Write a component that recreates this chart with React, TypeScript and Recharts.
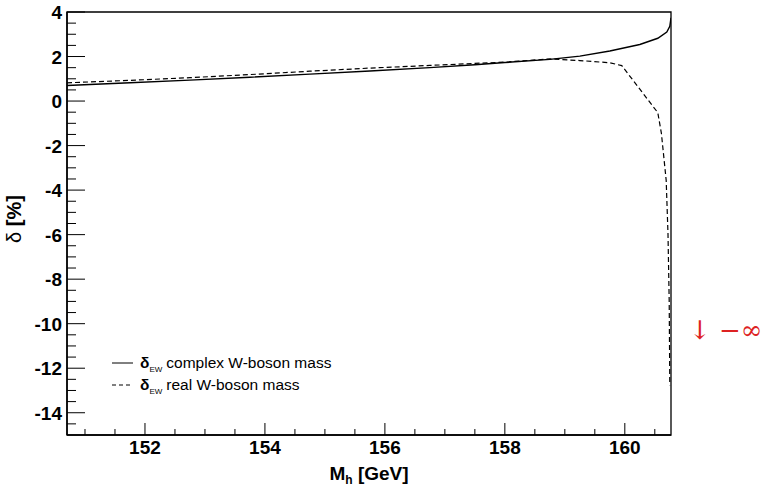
import React from "react";
import { Legend, Line, LineChart, ReferenceArea, XAxis, YAxis } from "recharts";

// δ_EW with the complex W-boson mass (solid)
const complexMh = [150.7, 151.75, 152.75, 153.75, 154.75, 155.75, 156.75, 157.5, 158.0, 158.75, 159.25, 159.75, 160.25, 160.55, 160.7, 160.75, 160.77];
const complexDelta = [0.7, 0.82, 0.94, 1.07, 1.21, 1.35, 1.5, 1.63, 1.73, 1.87, 2.02, 2.25, 2.54, 2.82, 3.1, 3.36, 3.74];

// δ_EW with the real W-boson mass (dashed), runs to -infinity at threshold
const realMh = [150.7, 151.75, 152.75, 153.75, 154.75, 155.75, 156.75, 157.5, 158.0, 158.75, 159.25, 159.75, 159.95, 160.55, 160.61, 160.69, 160.72, 160.74, 160.75];
const realDelta = [0.82, 0.93, 1.05, 1.19, 1.34, 1.48, 1.6, 1.69, 1.75, 1.89, 1.82, 1.72, 1.59, -0.52, -1.45, -3.57, -5.97, -9.0, -12.76];

const xMajor = [152, 154, 156, 158, 160];
const yMajor = [-14, -12, -10, -8, -6, -4, -2, 0, 2, 4];

const xTicks: number[] = [];
for (let v = 151; v <= 160.5; v += 0.5) xTicks.push(v);
const yTicks: number[] = [];
for (let v = -14.5; v <= 4; v += 0.5) yTicks.push(v);

const complexData = complexMh.map((m, i) => ({ m, d: complexDelta[i] }));
const realData = realMh.map((m, i) => ({ m, d: realDelta[i] }));

const FONT = "'Liberation Sans', Arial, Helvetica, sans-serif";
const isMajor = (list: number[], v: number) => list.some((t) => Math.abs(t - v) < 1e-6);

function XTick({ x, y, payload }: any) {
  const major = isMajor(xMajor, payload.value);
  return (
    <g>
      <line x1={x} x2={x} y1={y} y2={y - (major ? 12 : 6)} stroke="#000" />
      {major && (
        <text x={x} y={y + 19} textAnchor="middle" fontSize={19} fontWeight="bold" fontFamily={FONT} fill="#000">
          {payload.value}
        </text>
      )}
    </g>
  );
}

function YTick({ x, y, payload }: any) {
  const major = isMajor(yMajor, payload.value);
  return (
    <g>
      <line x1={x} x2={x + (major ? 18 : 9)} y1={y} y2={y} stroke="#000" />
      {major && (
        <text x={x - 5} y={y + 7} textAnchor="end" fontSize={19} fontWeight="bold" fontFamily={FONT} fill="#000">
          {payload.value}
        </text>
      )}
    </g>
  );
}

function XTitle({ viewBox }: any) {
  const cx = viewBox.x + viewBox.width / 2;
  return (
    <text x={cx} y={viewBox.y + 45} textAnchor="middle" fontSize={19} fontWeight="bold" fontFamily={FONT} fill="#000">
      M<tspan fontSize={12} dy={4}>h</tspan>
      <tspan dy={-4}> [GeV]</tspan>
    </text>
  );
}

function YTitle() {
  return (
    <text transform="translate(21,219) rotate(-90)" textAnchor="middle" fontSize={20} fontFamily={FONT} fill="#000">
      δ<tspan fontWeight="bold"> [%]</tspan>
    </text>
  );
}

function LegendBox() {
  const rows = [
    { y: 13, dash: undefined, text: "complex W-boson mass" },
    { y: 35, dash: "4 3", text: "real W-boson mass" },
  ];
  return (
    <svg width={240} height={50}>
      {rows.map((r) => (
        <g key={r.text}>
          <line x1={7} x2={28} y1={r.y} y2={r.y} stroke="#000" strokeDasharray={r.dash} />
          <text x={35} y={r.y + 5} fontSize={15.5} fontFamily={FONT} fill="#000">
            <tspan fontWeight="bold">δ</tspan>
            <tspan fontSize={8} dy={4}>EW</tspan>
            <tspan dy={-4} dx={4}>{r.text}</tspan>
          </text>
        </g>
      ))}
    </svg>
  );
}

export default function App() {
  return (
    <div style={{ position: "absolute", left: 0, top: 0, width: 770, height: 487, background: "#fff", overflow: "hidden" }}>
      <LineChart width={770} height={487} margin={{ top: 12, right: 99, left: 0, bottom: 0 }}>
        <XAxis
          dataKey="m"
          type="number"
          domain={[150.7, 160.77]}
          allowDataOverflow
          ticks={xTicks}
          interval={0}
          tickSize={0}
          tickMargin={0}
          tick={<XTick />}
          height={52}
          axisLine={{ stroke: "#000", strokeWidth: 1.5 }}
          label={<XTitle />}
        />
        <YAxis
          type="number"
          domain={[-15, 4]}
          allowDataOverflow
          ticks={yTicks}
          interval={0}
          tickSize={0}
          tickMargin={0}
          tick={<YTick />}
          width={67}
          axisLine={{ stroke: "#000", strokeWidth: 1.5 }}
          label={<YTitle />}
        />
        <ReferenceArea x1={150.7} x2={160.77} y1={-15} y2={4} fill="none" stroke="#000" strokeWidth={1.3} />
        <Line data={complexData} dataKey="d" stroke="#000" strokeWidth={1.4} dot={false} isAnimationActive={false} />
        <Line data={realData} dataKey="d" stroke="#000" strokeWidth={1.2} strokeDasharray="5 3" dot={false} isAnimationActive={false} />
        <Legend
          layout="horizontal"
          align="center"
          verticalAlign="middle"
          content={<LegendBox />}
          wrapperStyle={{ left: 105, top: 350, width: 240, height: 50 }}
        />
      </LineChart>
      <div
        style={{
          position: "absolute",
          left: 689,
          top: 315,
          fontFamily: "'DejaVu Serif', serif",
          fontSize: 26,
          color: "#dd2222",
          whiteSpace: "nowrap",
        }}
      >
        ↓ −∞
      </div>
    </div>
  );
}
